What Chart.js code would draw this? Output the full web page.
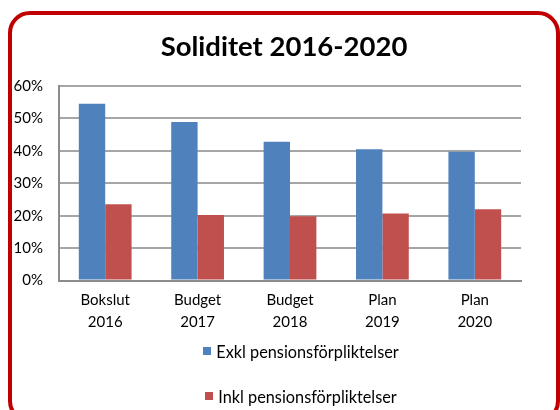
<!DOCTYPE html>
<html>
<head>
<meta charset="utf-8">
<script src="https://cdn.jsdelivr.net/npm/chart.js@4/dist/chart.umd.min.js"></script>
<style>
  html, body { margin: 0; padding: 0; background: #fff; }
  #wrap { position: relative; width: 560px; height: 410px; overflow: hidden; font-family: Lato, sans-serif; }
  #frame { position: absolute; left: 8px; top: 11px; width: 552px; height: 412px;
           border: 4px solid #c00000; border-radius: 22px; box-sizing: border-box; }
  #chart { position: absolute; left: 0; top: 0; }
  #legend { position: absolute; left: 0; top: 340px; width: 602px; }
  .leg-item { display: flex; align-items: center; justify-content: center; height: 22px;
              margin-bottom: 23px; font-size: 16.3px; color: #000; }
  .leg-box { width: 8px; height: 8px; margin-right: 5px; }
</style>
</head>
<body>
<div id="wrap">
  <div id="frame"></div>
  <canvas id="chart" width="560" height="410"></canvas>
  <div id="legend"></div>
</div>
<script>
/* ── Données ─────────────────────────────────────────────── */
const categories = [['Bokslut', '2016'], ['Budget', '2017'], ['Budget', '2018'], ['Plan', '2019'], ['Plan', '2020']];
const exklValues = [54.5, 48.9, 42.8, 40.5, 39.7];
const inklValues = [23.5, 20.2, 19.8, 20.7, 22.0];
const seriesLabels = ['Exkl pensionsförpliktelser', 'Inkl pensionsförpliktelser'];
const seriesColors = ['#4f81bd', '#c0504d'];
const yTicks = [0, 10, 20, 30, 40, 50, 60];

/* ── Chart ───────────────────────────────────────────────── */
const ctx = document.getElementById('chart');
const chart = new Chart(ctx, {
  type: 'bar',
  data: {
    labels: categories,
    datasets: [exklValues, inklValues].map((data, i) => ({
      label:           seriesLabels[i],
      data,
      backgroundColor: seriesColors[i],
      borderWidth:     0,
      barPercentage:   1,
      categoryPercentage: 0.571,
      yAxisID:         'y',
    })),
  },
  options: {
    responsive: false,
    animation: false,
    layout: { padding: { left: 9, right: 1, top: 0, bottom: 76 } },
    plugins: {
      legend: { display: false },
      tooltip: { enabled: false },
      title: {
        display: true,
        text: 'Soliditet 2016-2020',
        color: '#000',
        font: { family: 'Lato', size: 27.5, weight: 'bold', lineHeight: 1.2 },
        padding: { top: 31, bottom: 22 },
      },
    },
    scales: {
      x: {
        grid:   { display: false },
        border: { color: '#8c8c8c', width: 2 },
        ticks:  { color: '#000', padding: 1, font: { family: 'Lato', size: 15, lineHeight: 1.45 } },
      },
      y: {
        min: 0, max: 60,
        afterBuildTicks: axis => { axis.ticks = yTicks.map(v => ({ value: v })); },
        afterFit: axis => { axis.width = 50; },
        grid:   { color: '#a6a6a6', lineWidth: 2, drawTicks: false },
        border: { color: '#8c8c8c', width: 2 },
        ticks:  { color: '#000', padding: 16, font: { family: 'Lato', size: 15 }, callback: v => v + '%' },
      },
      // axe vide à droite : réserve la marge sans décentrer le titre
      yRight: {
        position: 'right',
        grid:   { display: false },
        border: { display: false },
        ticks:  { display: false },
        afterFit: axis => { axis.width = 38; },
      },
    },
  },
});

/* ── Légende HTML (verticale) ────────────────────────────── */
document.getElementById('legend').innerHTML = chart.data.datasets.map(ds => `
  <div class="leg-item"><span class="leg-box" style="background:${ds.backgroundColor}"></span>${ds.label}</div>`).join('');
</script>
</body>
</html>
